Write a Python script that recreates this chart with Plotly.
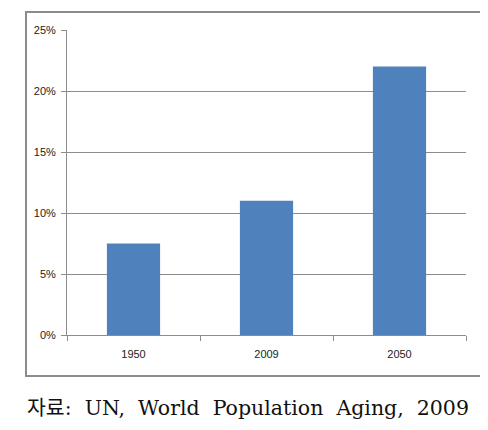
import plotly.graph_objects as go

years = ["1950", "2009", "2050"]
shares = [7.5, 11.0, 22.0]
y_ticks = [0, 5, 10, 15, 20, 25]
y_tick_text = [f"{v}%" for v in y_ticks]
caption = "자료:\u00a0 UN,\u00a0 World\u00a0 Population\u00a0 Aging,\u00a0 2009"

OFF = 8  # page body margin
W, H = 488 - OFF, 430 - OFF
L, R, T, B = 67 - OFF, 22, 30 - OFF, 95
pw, ph = W - L - R, H - T - B

def px_x(x):
    return (x - OFF - L) / pw

def px_y(y):
    return (H - B - (y - OFF)) / ph

fig = go.Figure(go.Bar(x=years, y=shares, marker=dict(color="#4F81BD", line=dict(width=0)), width=0.4))

fig.update_layout(
    width=W, height=H,
    margin=dict(l=L, r=R, t=T, b=B),
    paper_bgcolor="white", plot_bgcolor="white",
    showlegend=False,
    font=dict(family="Liberation Sans, Arial, sans-serif", size=11, color="#222"),
)
fig.update_xaxes(
    showgrid=False, showline=True, linecolor="#8c8c8c", linewidth=1,
    ticks="outside", tickson="boundaries", ticklen=5, tickcolor="#8c8c8c",
    tickfont=dict(size=11), ticklabelstandoff=9, fixedrange=True,
)
fig.update_yaxes(
    range=[0, 25], tickvals=y_ticks, ticktext=y_tick_text,
    showgrid=True, gridcolor="#8c8c8c", gridwidth=1,
    showline=True, linecolor="#8c8c8c", linewidth=1,
    ticks="outside", ticklen=5, tickcolor="#8c8c8c",
    tickfont=dict(size=11), ticklabelstandoff=3, zeroline=False, fixedrange=True,
)
fig.add_shape(type="rect", xref="paper", yref="paper",
              x0=px_x(26), x1=px_x(481), y0=px_y(376), y1=px_y(12),
              line=dict(color="#8c8c8c", width=2), fillcolor="rgba(0,0,0,0)", layer="above")
fig.add_annotation(text=caption, xref="paper", yref="paper",
                   x=px_x(25), y=px_y(408), xanchor="left", yanchor="middle",
                   showarrow=False,
                   font=dict(family="DejaVu Serif, Noto Sans CJK KR, serif", size=20.5, color="#111"))

fig.write_html("out.html")
